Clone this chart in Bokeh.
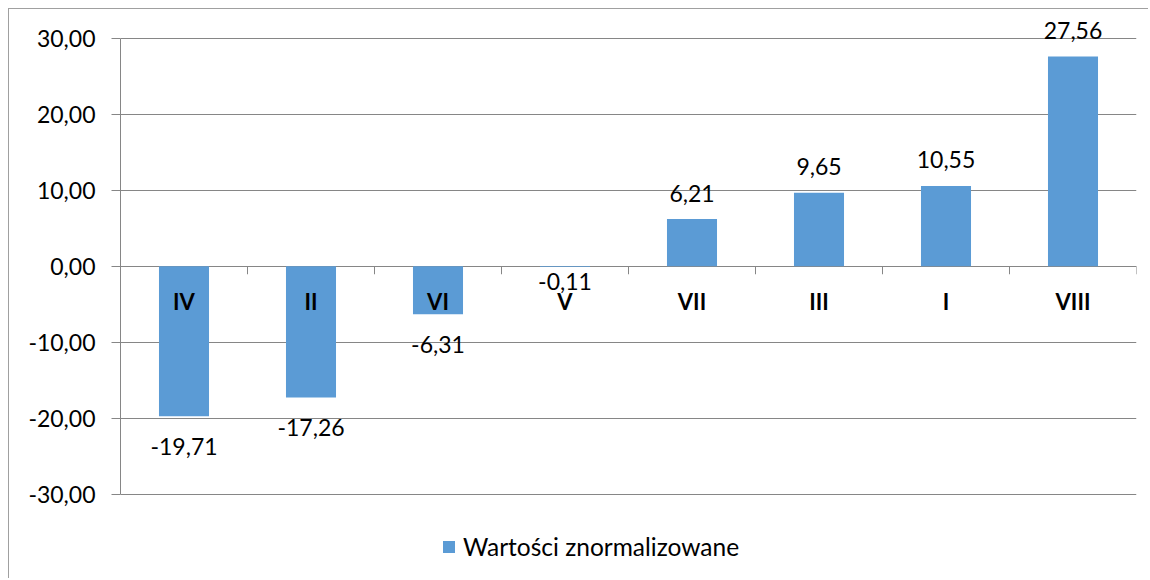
import numpy as np
from bokeh.plotting import figure
from bokeh.models import Range1d, FixedTicker
from bokeh.core.properties import value
from bokeh.embed import file_html
from bokeh.resources import INLINE

# ---- data ----
categories = ["IV", "II", "VI", "V", "VII", "III", "I", "VIII"]
values = [-19.71, -17.26, -6.31, -0.11, 6.21, 9.65, 10.55, 27.56]
y_ticks = [-30, -20, -10, 0, 10, 20, 30]
series_name = "Wartości znormalizowane"

def fmt(v):
    return f"{v:.2f}".replace(".", ",")

FONT = "Lato"
GRID = "#868686"
BAR = "#5B9BD5"

# ---- layout (pixels) ----
W, H = 1140, 570
LEFT, RIGHT = 111, 13
TOP_PX, BOT_PX = 28.5, 485.0     # pixel rows of the top and bottom ticks inside the frame
ymin, ymax = min(y_ticks), max(y_ticks)
ppu = (BOT_PX - TOP_PX) / (ymax - ymin)
y_end = ymax + TOP_PX / ppu
y_start = ymin - (H - BOT_PX) / ppu

n = len(categories)
xpos = [i + 0.5 for i in range(n)]

p = figure(width=W, height=H, output_backend="svg", toolbar_location=None,
           x_range=Range1d(0, n), y_range=Range1d(y_start, y_end),
           min_border_left=LEFT, min_border_right=RIGHT, min_border_top=0, min_border_bottom=0,
           x_axis_location=None)
p.styles = {"margin-left": "8px", "margin-top": "8px",
            "border-left": "1px solid #a0a0a0", "border-top": "1px solid #a0a0a0"}
p.outline_line_color = None
p.background_fill_color = "white"
p.border_fill_color = "white"

# y axis
p.yaxis.ticker = FixedTicker(ticks=y_ticks)
p.yaxis.bounds = (ymin, ymax)
p.yaxis.major_label_overrides = {t: fmt(t) for t in y_ticks}
p.yaxis.axis_line_color = GRID
p.yaxis.major_tick_line_color = GRID
p.yaxis.major_tick_out = 9
p.yaxis.major_tick_in = 0
p.yaxis.minor_tick_line_color = None
p.yaxis.major_label_standoff = 16
p.yaxis.major_label_text_font = FONT
p.yaxis.major_label_text_font_size = "23px"
p.yaxis.major_label_text_color = "black"

p.xgrid.visible = False
p.ygrid.ticker = FixedTicker(ticks=y_ticks)
p.ygrid.grid_line_color = GRID

# tick marks between categories on the zero line
p.ray(x=list(range(1, n + 1)), y=[0] * n, length=8, length_units="screen",
      angle=-np.pi / 2, line_color=GRID, line_width=1)

# bars
p.vbar(x=xpos, top=values, bottom=0, width=0.394, fill_color=BAR, line_color=None,
       legend_label=series_name)

# data labels
offsets = [(-26 if v > 0 else (30 if abs(v) >= 1 else 14)) for v in values]
p.text(x=xpos, y=values, text=[fmt(v) for v in values], y_offset=offsets,
       text_align="center", text_baseline="middle", text_font=value(FONT),
       text_font_size="23px", text_color="black")

# category labels
p.text(x=xpos, y=[0] * n, text=categories, y_offset=35,
       text_align="center", text_baseline="middle", text_font=value(FONT),
       text_font_size="22px", text_font_style="bold", text_color="black")

# legend
lg = p.legend[0]
lg.location = (321, 18)
lg.orientation = "horizontal"
lg.border_line_color = None
lg.background_fill_alpha = 0
lg.padding = 0
lg.margin = 0
lg.glyph_width = 15
lg.glyph_height = 15
lg.label_standoff = 7
lg.label_text_font = FONT
lg.label_text_font_size = "24.5px"
lg.label_text_color = "black"

open("out.html", "w").write(file_html(p, INLINE))
